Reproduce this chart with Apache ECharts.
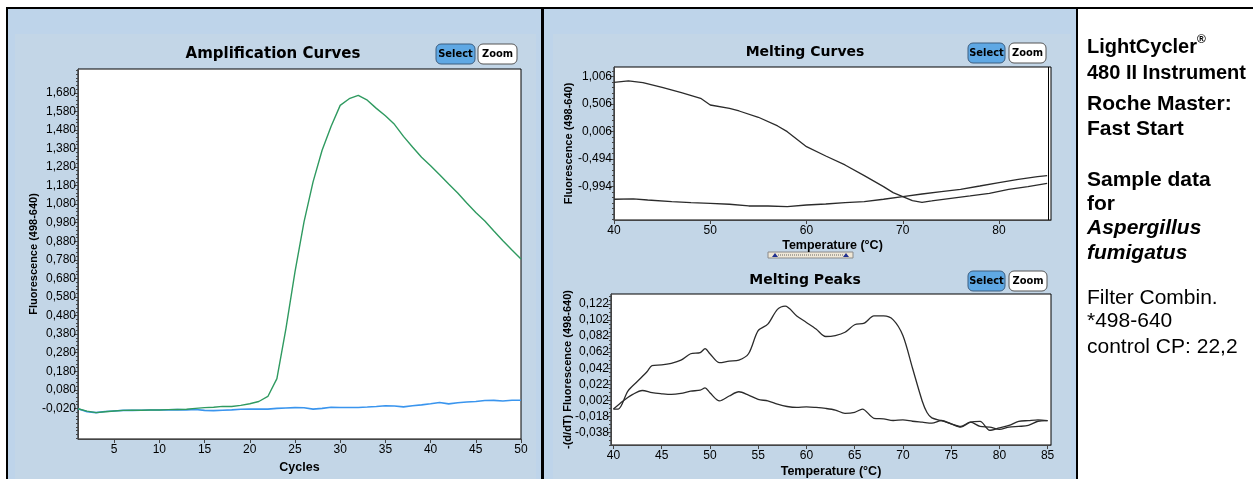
<!DOCTYPE html>
<html><head><meta charset="utf-8">
<script src="https://cdn.jsdelivr.net/npm/echarts@6.0.0/dist/echarts.min.js"></script>
<style>html,body{margin:0;padding:0;background:#fff}#c{width:1253px;height:479px}</style>
</head><body><div id="c"></div>
<script>
// ---------- Amplification curves ----------
const cycles = [1,2,3,4,5,6,7,8,9,10,11,12,13,14,15,16,17,18,19,20,21,22,23,24,25,26,27,28,29,30,31,32,33,34,35,36,37,38,39,40,41,42,43,44,45,46,47,48,49,50];
const ampGreen = [-0.022,-0.035,-0.043,-0.038,-0.034,-0.031,-0.030,-0.030,-0.029,-0.029,-0.027,-0.026,-0.025,-0.020,-0.016,-0.014,-0.009,-0.010,-0.004,0.005,0.017,0.044,0.140,0.410,0.715,0.985,1.200,1.370,1.500,1.612,1.648,1.666,1.640,1.596,1.556,1.510,1.445,1.388,1.333,1.287,1.238,1.188,1.140,1.086,1.035,0.989,0.935,0.883,0.833,0.785];
const ampBlue = [-0.022,-0.038,-0.043,-0.037,-0.034,-0.031,-0.031,-0.030,-0.029,-0.029,-0.028,-0.027,-0.028,-0.026,-0.031,-0.032,-0.030,-0.028,-0.025,-0.024,-0.024,-0.024,-0.020,-0.018,-0.016,-0.017,-0.024,-0.020,-0.014,-0.015,-0.015,-0.015,-0.013,-0.010,-0.006,-0.007,-0.012,-0.006,-0.001,0.005,0.012,0.004,0.010,0.014,0.017,0.022,0.023,0.020,0.024,0.024];
const ampXTicks = [5,10,15,20,25,30,35,40,45,50];
const ampYTicks = [-0.02,0.08,0.18,0.28,0.38,0.48,0.58,0.68,0.78,0.88,0.98,1.08,1.18,1.28,1.38,1.48,1.58,1.68];

// ---------- Melting curves ----------
const mcTempA = [40,41.5,43,45,47,49,50,52,53,55,57,58,60,62,64,66,68,69,70,71,72,73,75,77,79,81,83,85];
const mcFluorA = [0.904,0.928,0.897,0.813,0.715,0.613,0.491,0.431,0.382,0.268,0.110,0.006,-0.267,-0.436,-0.599,-0.794,-0.994,-1.103,-1.176,-1.249,-1.278,-1.254,-1.205,-1.163,-1.114,-1.042,-0.994,-0.933];
const mcTempB = [40,42,43.5,46,48,50,52,54,56,58,60,62,64,66,68,70,72,74,76,78,80,82,84,85];
const mcFluorB = [-1.223,-1.217,-1.236,-1.266,-1.285,-1.297,-1.314,-1.345,-1.345,-1.357,-1.327,-1.309,-1.285,-1.266,-1.223,-1.176,-1.127,-1.085,-1.042,-0.982,-0.921,-0.860,-0.812,-0.794];
const mcXTicks = [40,50,60,70,80];
const mcYTicks = [-0.994,-0.494,0.006,0.506,1.006];

// ---------- Melting peaks ----------
const mpTemp1 = [40,40.5,41.5,42.5,43.5,44,45,46,47,48,49,49.5,50,51,52,53,54,55,56,57,57.8,59,60,61,62,63,64,65,66,67,68,69,70,71,72,72.5,73,74,75,76,77,78,79,80,81,82,83,84,85];
const mpVal1 = [-0.0087,-0.0087,0.0136,0.0258,0.038,0.0453,0.0461,0.0481,0.0520,0.0600,0.0615,0.0664,0.0600,0.0489,0.0509,0.0521,0.0600,0.0887,0.0968,0.1151,0.1192,0.107,0.0989,0.0907,0.0814,0.0826,0.0867,0.096,0.098,0.107,0.107,0.1021,0.0826,0.042,0.0014,-0.013,-0.0197,-0.023,-0.027,-0.031,-0.025,-0.024,-0.035,-0.032,-0.029,-0.024,-0.023,-0.022,-0.023];
const mpTemp2 = [40,41,42,43,44,45,46,47,48,49,49.5,50,51,52,53,54,55,56,57,58,59,60,61,62,63,64,65,65.8,67,68,69,70,71,72,73,74,75,76,77,78,79,80,81,82,83,84,85];
const mpVal2 = [-0.0087,0.0014,0.0095,0.0144,0.0116,0.0103,0.0095,0.0108,0.0136,0.0148,0.0177,0.0116,0.0014,0.0075,0.0128,0.0087,0.0034,0.0014,-0.0026,-0.0055,-0.0067,-0.0059,-0.0067,-0.0079,-0.0099,-0.014,-0.0128,-0.0087,-0.0201,-0.0209,-0.0229,-0.0221,-0.0238,-0.025,-0.0262,-0.0229,-0.027,-0.0302,-0.025,-0.0302,-0.031,-0.0339,-0.031,-0.0302,-0.029,-0.0238,-0.023];
const mpXTicks = [40,45,50,55,60,65,70,75,80,85];
const mpYTicks = [-0.038,-0.018,0.002,0.022,0.042,0.062,0.082,0.102,0.122];

// ---------- Texts ----------
const ampTitle = 'Amplification Curves';
const mcTitle = 'Melting Curves';
const mpTitle = 'Melting Peaks';
const yNameFluor = 'Fluorescence (498-640)';
const yNameDeriv = '-(d/dT) Fluorescence (498-640)';
const xNameCycles = 'Cycles';
const xNameTemp = 'Temperature (°C)';
const infoLines = [
  {t:'LightCycler', y:47, w:'bold', s:'normal', f:20},
  {t:'480 II Instrument', y:73, w:'bold', s:'normal', f:20},
  {t:'Roche Master:', y:104, w:'bold', s:'normal', f:21},
  {t:'Fast Start', y:129, w:'bold', s:'normal', f:21},
  {t:'Sample data', y:180, w:'bold', s:'normal', f:21},
  {t:'for', y:204, w:'bold', s:'normal', f:21},
  {t:'Aspergillus', y:228, w:'bold', s:'italic', f:21},
  {t:'fumigatus', y:253, w:'bold', s:'italic', f:21},
  {t:'Filter Combin.', y:298, w:'normal', s:'normal', f:21},
  {t:'*498-640', y:321, w:'normal', s:'normal', f:21},
  {t:'control CP: 22,2', y:347, w:'normal', s:'normal', f:21}
];

const pairs = (xs, ys) => xs.map((x, i) => [x, ys[i]]);
const fmt = v => (v < 0 ? '-' : '') + Math.abs(v).toFixed(3).replace('.', ',');
const minorList = (lo, hi, step, base) => { const r = []; const k0 = Math.ceil((lo - base) / step); for (let k = k0; base + k * step <= hi; k++) r.push(+(base + k * step).toFixed(5)); return r; };

const LBL = "'Liberation Sans',Arial,sans-serif";
const SANS = "'Liberation Sans',Arial,sans-serif";
const TITLEF = "'DejaVu Sans',sans-serif";
const BTNF = "'DejaVu Sans Condensed','DejaVu Sans',sans-serif";
const axisCol = '#444';

function xAx(grid, min, max, ticks, name, gap) {
  return {
    type: 'value', gridIndex: grid, min: min, max: max,
    name: name, nameLocation: 'middle', nameGap: gap, nameMoveOverlap: false,
    nameTextStyle: {fontFamily: SANS, fontWeight: 'bold', fontSize: 12.5, color: '#000'},
    axisLine: {show: true, onZero: false, lineStyle: {color: axisCol, width: 1}},
    axisTick: {show: true, customValues: ticks, length: 4, lineStyle: {color: axisCol}},
    axisLabel: {show: true, customValues: ticks, margin: 5, fontFamily: LBL, fontSize: 12, color: '#000', formatter: v => String(v)},
    splitLine: {show: false}
  };
}
function yAx(grid, min, max, ticks, name, gap) {
  return {
    type: 'value', gridIndex: grid, min: min, max: max, position: 'left',
    name: name, nameLocation: 'middle', nameGap: gap, nameRotate: 90, nameMoveOverlap: false,
    nameTextStyle: {fontFamily: SANS, fontWeight: 'bold', fontSize: 11, color: '#000'},
    axisLine: {show: true, onZero: false, lineStyle: {color: axisCol, width: 1}},
    axisTick: {show: true, customValues: ticks, length: 4, lineStyle: {color: axisCol}},
    axisLabel: {show: true, customValues: ticks, margin: 2, fontFamily: LBL, fontSize: 12, color: '#000', formatter: fmt},
    splitLine: {show: false}
  };
}
function yMinor(grid, min, max, ticks) {
  return {
    type: 'value', gridIndex: grid, min: min, max: max, position: 'left',
    axisLine: {show: false, onZero: false}, axisLabel: {show: false}, splitLine: {show: false},
    axisTick: {show: true, customValues: ticks, length: 2, lineStyle: {color: axisCol}}
  };
}

const ampY = [-0.185, 1.808], mcY = [-1.6, 1.182], mpY = [-0.0533, 0.1342];

function button(x, y, w, h, label, active) {
  return {
    type: 'group', z: 20, children: [
      {type: 'rect', shape: {x: x, y: y, width: w, height: h, r: 5},
       style: {fill: active ? '#5fa8e4' : '#ffffff', stroke: active ? '#3d5e80' : '#555', lineWidth: 1}},
      {type: 'text', style: {x: x + w / 2, y: y + h / 2 + 0.5, text: label, align: 'center', verticalAlign: 'middle',
        font: "bold 11px " + BTNF, fill: '#000'}}
    ]
  };
}
function titleText(x, y, t, size) {
  return {type: 'text', z: 20, style: {x: x, y: y, text: t, align: 'center', verticalAlign: 'middle', font: 'bold ' + size + 'px ' + TITLEF, fill: '#000'}};
}

const graphics = [
  {type: 'rect', z: -100, shape: {x: 0, y: 0, width: 1253, height: 479}, style: {fill: '#ffffff'}},
  {type: 'rect', z: -90, shape: {x: 8, y: 9, width: 533, height: 470}, style: {fill: '#bed4ea'}},
  {type: 'rect', z: -89, shape: {x: 15, y: 34, width: 521, height: 445}, style: {fill: '#c3d6e7'}},
  {type: 'rect', z: -90, shape: {x: 544, y: 9, width: 532, height: 470}, style: {fill: '#bed4ea'}},
  {type: 'rect', z: -89, shape: {x: 553, y: 34, width: 518, height: 445}, style: {fill: '#c3d6e7'}},
  {type: 'rect', z: 30, shape: {x: 6, y: 7, width: 1247, height: 2}, style: {fill: '#000'}},
  {type: 'rect', z: 30, shape: {x: 6, y: 7, width: 2, height: 472}, style: {fill: '#000'}},
  {type: 'rect', z: 30, shape: {x: 541, y: 7, width: 3, height: 472}, style: {fill: '#000'}},
  {type: 'rect', z: 30, shape: {x: 1076, y: 7, width: 2, height: 472}, style: {fill: '#000'}},
  titleText(273, 54, ampTitle, 15),
  titleText(805, 52, mcTitle, 14),
  titleText(805, 280, mpTitle, 14),
  button(436, 44, 39, 20, 'Select', true),
  button(478, 44, 39, 20, 'Zoom', false),
  button(968, 43, 37, 20, 'Select', true),
  button(1009, 43, 37, 20, 'Zoom', false),
  button(968, 271, 37, 20, 'Select', true),
  button(1009, 271, 38, 20, 'Zoom', false),
  {type: 'line', z: 25, shape: {x1: 1048.5, y1: 67, x2: 1048.5, y2: 220}, style: {stroke: '#000', lineWidth: 1}},
  {type: 'group', z: 20, children: [
    {type: 'rect', shape: {x: 768, y: 252, width: 85, height: 6}, style: {fill: '#efe7d6', stroke: '#8a8a8a', lineWidth: 1}},
    {type: 'line', shape: {x1: 778, y1: 255, x2: 843, y2: 255}, style: {stroke: '#666', lineWidth: 1, lineDash: [1, 1]}},
    {type: 'polygon', shape: {points: [[772, 257], [775, 253], [778, 257]]}, style: {fill: '#1f2f8f'}},
    {type: 'polygon', shape: {points: [[843, 257], [846, 253], [849, 257]]}, style: {fill: '#1f2f8f'}}
  ]},
  {type: 'text', z: 20, style: {x: 1197, y: 40, text: '®', align: 'left', verticalAlign: 'middle', font: 'bold 12px ' + SANS, fill: '#000'}}
];
infoLines.forEach(l => {
  graphics.push({type: 'text', z: 20, style: {x: 1087, y: l.y, text: l.t, align: 'left', verticalAlign: 'middle',
    font: l.s + ' ' + l.w + ' ' + l.f + 'px ' + SANS, fill: '#000'}});
});

const option = {
  animation: false,
  backgroundColor: 'transparent',
  grid: [
    {left: 78, top: 69, width: 443, height: 375, show: true, backgroundColor: '#fff', borderColor: '#000', borderWidth: 1},
    {left: 614, top: 67, width: 437, height: 153, show: true, backgroundColor: '#fff', borderColor: '#000', borderWidth: 1},
    {left: 611, top: 294, width: 440, height: 154, show: true, backgroundColor: '#fff', borderColor: '#000', borderWidth: 1}
  ],
  xAxis: [
    xAx(0, 1, 50, ampXTicks, xNameCycles, 22),
    xAx(1, 40, 85.4, mcXTicks, xNameTemp, 19),
    xAx(2, 39.75, 85.35, mpXTicks, xNameTemp, 20)
  ],
  yAxis: [
    yAx(0, ampY[0], ampY[1], ampYTicks, yNameFluor, 38.5),
    yMinor(0, ampY[0], ampY[1], minorList(ampY[0], ampY[1], 0.02, -0.02)),
    yAx(1, mcY[0], mcY[1], mcYTicks, yNameFluor, 40),
    yMinor(1, mcY[0], mcY[1], minorList(mcY[0], mcY[1], 0.1, 0.006)),
    yAx(2, mpY[0], mpY[1], mpYTicks, yNameDeriv, 37.5),
    yMinor(2, mpY[0], mpY[1], minorList(mpY[0], mpY[1], 0.005, 0.002))
  ],
  graphic: {elements: graphics},
  series: [
    {type: 'line', xAxisIndex: 0, yAxisIndex: 0, data: pairs(cycles, ampBlue), showSymbol: false, lineStyle: {color: '#3a95ee', width: 1.6}, z: 3},
    {type: 'line', xAxisIndex: 0, yAxisIndex: 0, data: pairs(cycles, ampGreen), showSymbol: false, lineStyle: {color: '#2f9a60', width: 1.4}, z: 4},
    {type: 'line', xAxisIndex: 1, yAxisIndex: 2, data: pairs(mcTempA, mcFluorA), showSymbol: false, lineStyle: {color: '#2b2b2b', width: 1.3}},
    {type: 'line', xAxisIndex: 1, yAxisIndex: 2, data: pairs(mcTempB, mcFluorB), showSymbol: false, lineStyle: {color: '#2b2b2b', width: 1.3}},
    {type: 'line', xAxisIndex: 2, yAxisIndex: 4, data: pairs(mpTemp1, mpVal1), showSymbol: false, smooth: 0.3, lineStyle: {color: '#2b2b2b', width: 1.3}},
    {type: 'line', xAxisIndex: 2, yAxisIndex: 4, data: pairs(mpTemp2, mpVal2), showSymbol: false, smooth: 0.3, lineStyle: {color: '#2b2b2b', width: 1.3}}
  ]
};
const chart = echarts.init(document.getElementById('c'), null, {renderer: 'canvas'});
chart.setOption(option);
</script>
</body></html>
